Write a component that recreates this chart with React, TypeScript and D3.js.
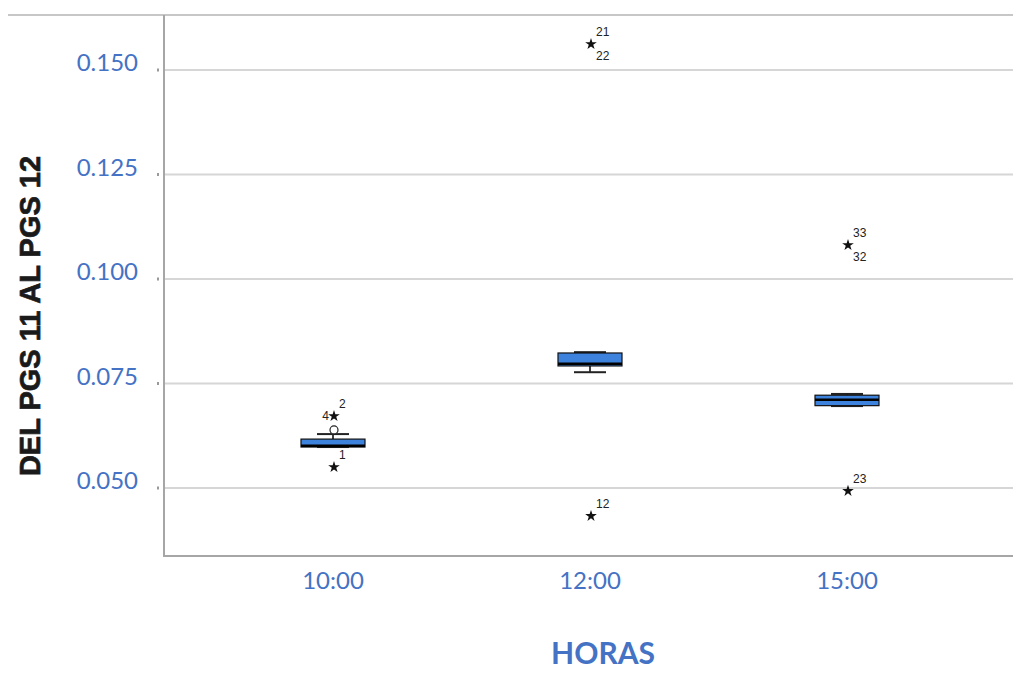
import React from "react";
import * as d3 from "d3";

// Boxplot summary per hour
const categories = ["10:00", "12:00", "15:00"];
const whiskerLow = [0.0598, 0.0777, 0.0696];
const q1 = [0.0598, 0.0792, 0.0697];
const median = [0.0601, 0.0797, 0.0711];
const q3 = [0.0617, 0.0823, 0.0722];
const whiskerHigh = [0.0629, 0.0825, 0.0725];

// Outlying cases: category index, value, kind, case labels (above / below / left)
const outCat = [0, 0, 0, 1, 1, 2, 2];
const outValue = [0.0639, 0.0672, 0.0550, 0.1562, 0.0433, 0.1081, 0.0493];
const outKind = ["circle", "star", "star", "star", "star", "star", "star"];
const outLabelAbove = ["", "2", "1", "21", "12", "33", "23"];
const outLabelBelow = ["", "", "", "22", "", "32", ""];
const outLabelLeft = ["", "4", "", "", "", "", ""];

const yTicks = [0.05, 0.075, 0.1, 0.125, 0.15];

const W = 1013;
const H = 673;
const left = 164;
const top = 15;
const bottom = 556;
const blue = "#4472c4";

export default function App() {
  const y = d3.scaleLinear().domain([0.15, 0.05]).range([70, 488]);
  const x = d3.scalePoint<string>().domain(categories).range([333, 847]);
  const boxW = 64;
  const capW = 32;
  const star = d3.symbol(d3.symbolStar, 42)() as string;
  const fmt = d3.format(".3f");

  return (
    <div style={{ position: "absolute", left: 0, top: 0 }}>
      <svg width={W} height={H} style={{ display: "block", background: "#fff" }}>
        {/* frame top line */}
        <line x1={8} x2={W} y1={top} y2={top} stroke="#b4b4b4" strokeWidth={1.5} />
        {/* gridlines */}
        {yTicks.map((t) => (
          <line key={"g" + t} x1={left} x2={W} y1={y(t)} y2={y(t)} stroke="#d6d6d6" strokeWidth={2} />
        ))}
        {/* axes */}
        <line x1={left} x2={left} y1={top} y2={bottom} stroke="#a6a6a6" strokeWidth={2} />
        <line x1={left - 1} x2={W} y1={bottom} y2={bottom} stroke="#a6a6a6" strokeWidth={2} />
        {/* y ticks and labels */}
        {yTicks.map((t) => (
          <g key={"t" + t}>
            <rect x={157} y={y(t) - 1.5} width={2} height={3} fill="#9a9a9a" />
            <text
              x={138}
              y={y(t) - 5}
              textAnchor="end"
              dominantBaseline="middle"
              fontFamily="Lato, 'Open Sans', sans-serif"
              fontSize={24}
              fill={blue}
            >
              {fmt(t)}
            </text>
          </g>
        ))}
        {/* x labels */}
        {categories.map((c) => (
          <text
            key={"x" + c}
            x={x(c)}
            y={583}
            textAnchor="middle"
            dominantBaseline="middle"
            fontFamily="Lato, 'Open Sans', sans-serif"
            fontSize={24}
            fill={blue}
          >
            {c}
          </text>
        ))}
        {/* axis titles */}
        <text
          x={603}
          y={656}
          textAnchor="middle"
          dominantBaseline="middle"
          fontFamily="Lato, sans-serif"
          fontWeight={700}
          fontSize={30}
          fill={blue}
        >
          HORAS
        </text>
        <text
          transform={`translate(32,316) rotate(-90)`}
          textAnchor="middle"
          dominantBaseline="middle"
          fontFamily="'Liberation Sans', Arial, sans-serif"
          fontWeight={700}
          fontSize={29}
          fill="#1a1a1a"
          stroke="#1a1a1a"
          strokeWidth={0.7}
        >
          DEL PGS 11 AL PGS 12
        </text>
        {/* boxes */}
        {categories.map((c, i) => {
          const cx = x(c) as number;
          return (
            <g key={"b" + c}>
              <line x1={cx} x2={cx} y1={y(whiskerHigh[i])} y2={y(q3[i])} stroke="#000" strokeWidth={1.5} />
              <line x1={cx} x2={cx} y1={y(q1[i])} y2={y(whiskerLow[i])} stroke="#000" strokeWidth={1.5} />
              <line x1={cx - capW / 2} x2={cx + capW / 2} y1={y(whiskerHigh[i])} y2={y(whiskerHigh[i])} stroke="#222" strokeWidth={2} />
              <line x1={cx - capW / 2} x2={cx + capW / 2} y1={y(whiskerLow[i])} y2={y(whiskerLow[i])} stroke="#222" strokeWidth={2} />
              <rect
                x={cx - boxW / 2}
                y={y(q3[i])}
                width={boxW}
                height={y(q1[i]) - y(q3[i])}
                fill="#3d82dc"
                stroke="#111"
                strokeWidth={1.2}
              />
              <line x1={cx - boxW / 2} x2={cx + boxW / 2} y1={y(median[i])} y2={y(median[i])} stroke="#000" strokeWidth={2.5} />
            </g>
          );
        })}
        {/* outliers */}
        {outValue.map((v, k) => {
          const cx = (x(categories[outCat[k]]) as number) + 1;
          const cy = y(v);
          return (
            <g key={"o" + k}>
              {outKind[k] === "circle" ? (
                <circle cx={cx} cy={cy} r={4} fill="#fff" stroke="#222" strokeWidth={1.2} />
              ) : (
                <path d={star} transform={`translate(${cx},${cy})`} fill="#111" />
              )}
              {outLabelAbove[k] && (
                <text x={cx + 5} y={cy - 11} dominantBaseline="middle" fontFamily="'Liberation Sans', Arial, sans-serif" fontSize={12} fill="#222">
                  {outLabelAbove[k]}
                </text>
              )}
              {outLabelBelow[k] && (
                <text x={cx + 5} y={cy + 13} dominantBaseline="middle" fontFamily="'Liberation Sans', Arial, sans-serif" fontSize={12} fill="#222">
                  {outLabelBelow[k]}
                </text>
              )}
              {outLabelLeft[k] && (
                <text x={cx - 5} y={cy + 1} textAnchor="end" dominantBaseline="middle" fontFamily="'Liberation Sans', Arial, sans-serif" fontSize={12} fill="#222">
                  {outLabelLeft[k]}
                </text>
              )}
            </g>
          );
        })}
      </svg>
    </div>
  );
}
